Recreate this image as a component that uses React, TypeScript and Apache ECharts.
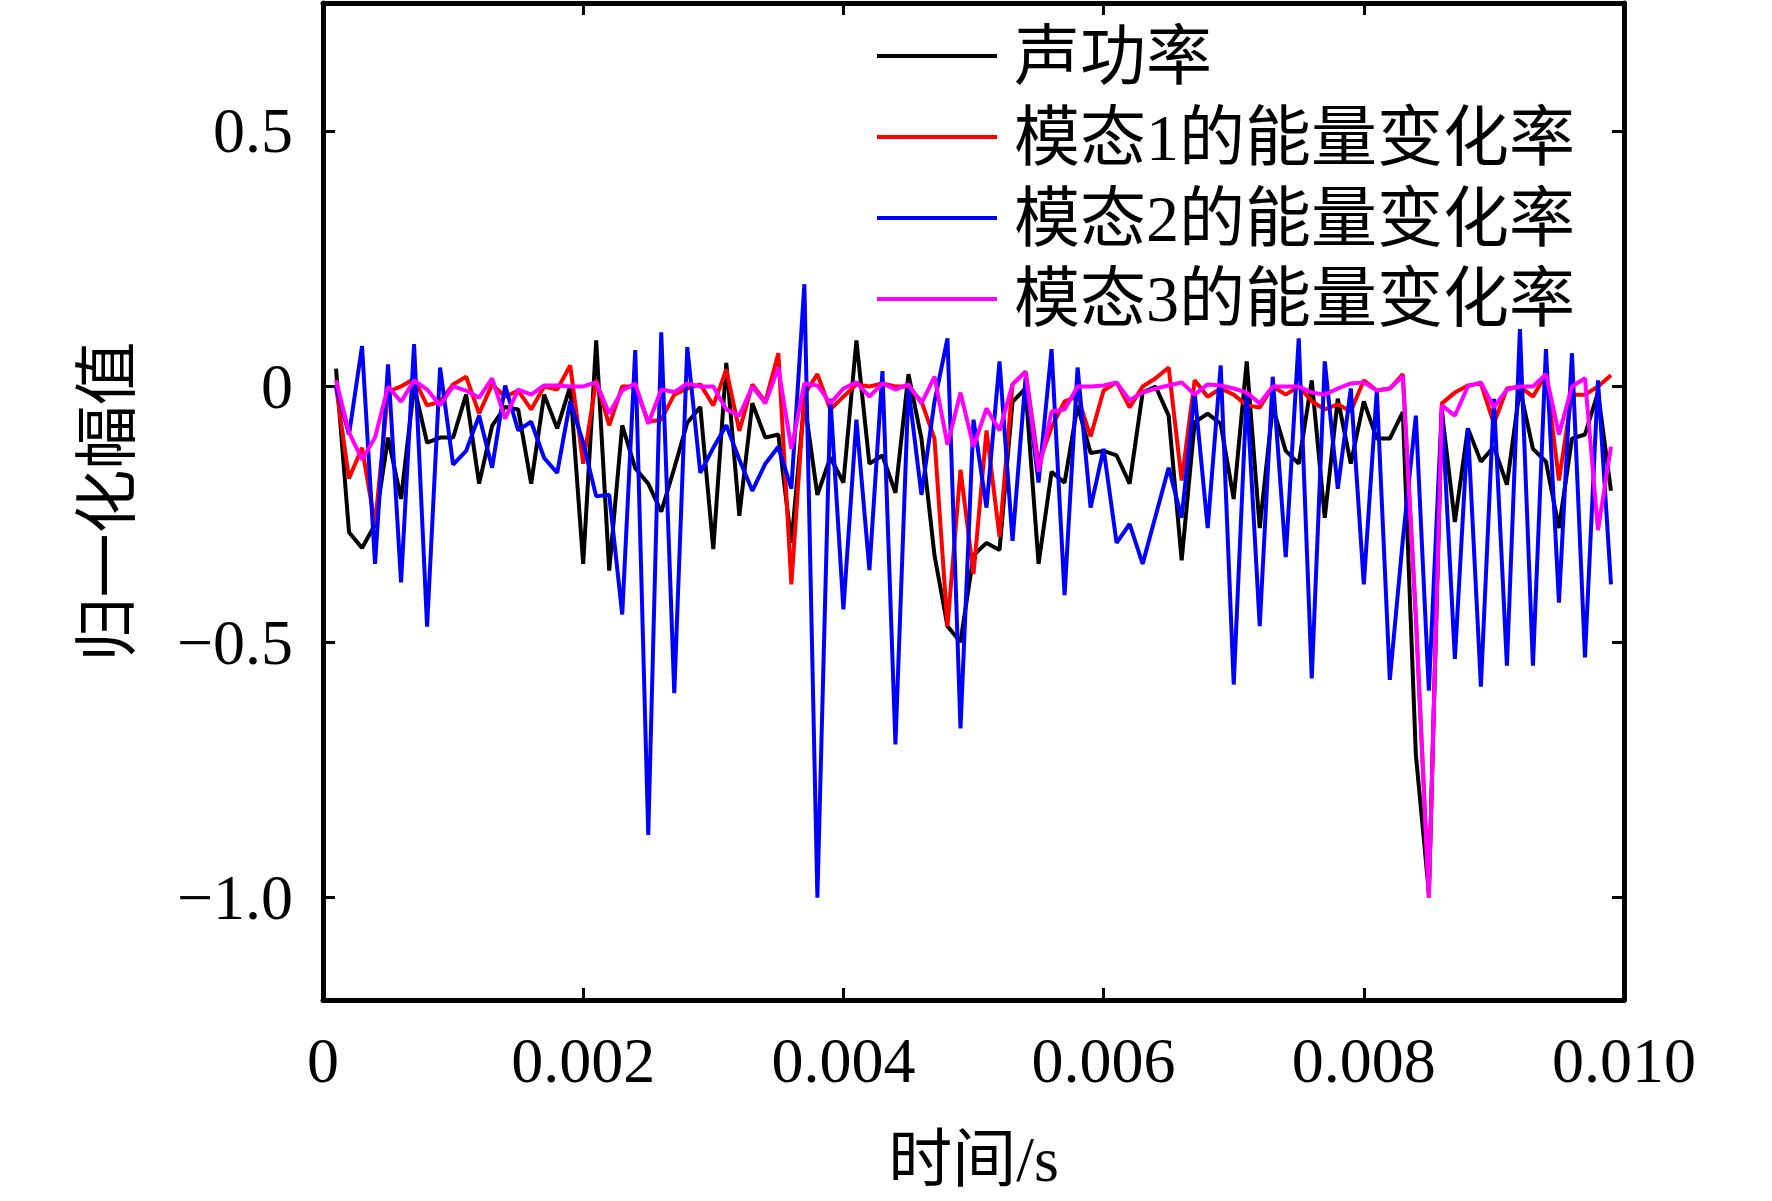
import React, { useEffect, useRef } from "react";
import * as echarts from "echarts";

const FONT = "'Times New Roman', 'Liberation Serif', 'Noto Sans CJK SC', serif";

// sample index 1..99, time = index * 0.0001 s
const sampleCount = 99;
const timeStep = 0.0001;

const seriesNames = ["声功率", "模态1的能量变化率", "模态2的能量变化率", "模态3的能量变化率"];
const seriesColors = ["#000000", "#ff0000", "#0000ff", "#ff00ff"];

const acousticPower = [
  0.035, -0.285, -0.316, -0.27, -0.1, -0.22, 0.0, -0.11, -0.1, -0.1,
  -0.016, -0.19, -0.077, -0.04, -0.045, -0.19, -0.016, -0.082, 0.0, -0.347,
  0.09, -0.36, -0.076, -0.16, -0.19, -0.245, -0.16, -0.071, -0.04, -0.318,
  0.046, -0.253, -0.033, -0.1, -0.094, -0.306, -0.029, -0.212, -0.139, -0.188,
  0.09, -0.151, -0.135, -0.208, 0.024, -0.102, -0.33, -0.469, -0.5, -0.33,
  -0.306, -0.32, -0.03, -0.004, -0.347, -0.167, -0.188, -0.037, -0.13, -0.126,
  -0.135, -0.19, -0.012, 0.0, -0.057, -0.34, -0.07, -0.053, -0.073, -0.22,
  0.049, -0.277, -0.04, -0.126, -0.151, 0.012, -0.257, -0.024, -0.151, -0.029,
  -0.102, -0.102, -0.05, -0.72, -0.99, -0.049, -0.265, -0.082, -0.147, -0.118,
  -0.192, -0.004, -0.122, -0.147, -0.277, -0.102, -0.094, -0.012, -0.204,
];

const mode1Rate = [
  0.0, -0.18, -0.12, -0.27, -0.01, 0.0, 0.015, -0.037, -0.03, 0.004,
  0.019, -0.053, 0.004, -0.02, -0.008, -0.045, 0.0, -0.006, 0.041, -0.151,
  0.012, -0.076, 0.0, 0.0, -0.069, -0.065, -0.016, -0.004, 0.004, -0.037,
  0.033, -0.087, 0.004, -0.03, 0.065, -0.387, -0.016, 0.024, -0.045, -0.02,
  0.004, 0.0, 0.006, 0.0, 0.0, -0.029, -0.102, -0.469, -0.163, -0.367,
  -0.086, -0.294, 0.004, 0.029, -0.151, -0.08, -0.029, -0.02, -0.098, -0.008,
  0.008, -0.041, 0.0, 0.016, 0.037, -0.184, 0.012, -0.02, -0.004, -0.016,
  -0.037, -0.041, 0.0, -0.016, 0.0, -0.029, -0.045, -0.035, -0.049, 0.012,
  -0.008, -0.004, 0.024, -0.45, -1.0, -0.033, -0.012, 0.002, 0.006, -0.073,
  -0.004, 0.0, -0.02, 0.024, -0.184, -0.016, -0.016, 0.0, 0.022,
];

const mode2Rate = [
  0.0, -0.094, 0.079, -0.347, 0.043, -0.383, 0.083, -0.47, 0.037, -0.153,
  -0.126, -0.057, -0.159, 0.002, -0.086, -0.069, -0.14, -0.169, -0.029, -0.11,
  -0.215, -0.212, -0.446, 0.071, -0.877, 0.106, -0.6, 0.077, -0.169, -0.12,
  -0.076, -0.143, -0.204, -0.151, -0.118, -0.2, 0.2, -1.0, -0.024, -0.436,
  -0.065, -0.359, 0.03, -0.7, -0.004, -0.212, -0.03, 0.094, -0.669, -0.065,
  -0.237, 0.049, -0.302, 0.016, -0.188, 0.073, -0.408, 0.037, -0.237, -0.122,
  -0.306, -0.269, -0.347, -0.253, -0.159, -0.257, -0.012, -0.277, 0.041, -0.583,
  -0.01, -0.469, 0.019, -0.334, 0.094, -0.571, 0.049, -0.2, -0.004, -0.387,
  -0.008, -0.574, -0.3, -0.057, -0.595, -0.04, -0.533, -0.082, -0.587, -0.024,
  -0.546, 0.112, -0.546, 0.073, -0.423, 0.065, -0.53, 0.012, -0.387,
];

const mode3Rate = [
  0.012, -0.09, -0.143, -0.1, 0.0, -0.03, 0.012, -0.006, -0.037, 0.0,
  -0.008, -0.022, 0.016, -0.063, -0.006, -0.016, 0.002, 0.002, 0.0, 0.0,
  0.008, -0.053, -0.008, 0.006, -0.073, -0.006, -0.011, 0.006, 0.0, 0.0,
  -0.045, -0.057, 0.0, -0.033, 0.037, -0.122, 0.006, 0.002, -0.033, -0.004,
  0.008, -0.02, 0.006, -0.006, 0.004, -0.033, 0.019, -0.114, -0.012, -0.118,
  -0.043, -0.086, 0.004, 0.029, -0.167, -0.049, -0.045, 0.0, 0.0, 0.002,
  0.008, -0.027, -0.012, -0.004, 0.002, 0.008, -0.016, 0.004, 0.002, -0.004,
  -0.012, -0.033, 0.0, 0.0, 0.0, -0.012, -0.016, -0.004, 0.006, 0.008,
  -0.008, -0.004, 0.02, -0.45, -1.0, -0.037, -0.057, 0.0, 0.008, -0.041,
  -0.006, 0.0, 0.0, 0.024, -0.094, 0.0, 0.016, -0.281, -0.118,
];

const xTickValues = [0, 0.002, 0.004, 0.006, 0.008, 0.01];
const yTickValues = [-1.0, -0.5, 0, 0.5];

const seriesValues = [acousticPower, mode1Rate, mode2Rate, mode3Rate];

const xLabel = (v: number) => (v === 0 ? "0" : v.toFixed(3));
const yLabel = (v: number) =>
  Math.abs(v) < 1e-9 ? "0" : (v < 0 ? "\u2212" : "") + Math.abs(v).toFixed(1);

export default function App() {
  const ref = useRef<HTMLDivElement>(null);

  useEffect(() => {
    if (!ref.current) return;
    const chart = echarts.init(ref.current, undefined, { renderer: "svg" });

    const times: number[] = [];
    for (let i = 1; i <= sampleCount; i++) times.push(+(i * timeStep).toFixed(5));

    const axisLine = { show: true, onZero: false, lineStyle: { color: "#000", width: 5 } };
    const axisTick = { show: true, inside: true, length: 12, lineStyle: { color: "#000", width: 3 } };

    const option: any = {
      animation: false,
      backgroundColor: "#ffffff",
      textStyle: { fontFamily: FONT },
      grid: { left: 323, right: 148, top: 3, bottom: 201, containLabel: false },
      legend: {
        orient: "vertical",
        left: 872,
        top: 18,
        itemWidth: 120,
        itemHeight: 4,
        itemGap: 15,
        icon: "rect",
        data: seriesNames,
        textStyle: {
          fontFamily: FONT,
          fontSize: 66,
          lineHeight: 64,
          color: "#000",
          padding: [0, 0, 0, 12],
        },
      },
      xAxis: [
        {
          type: "value",
          position: "bottom",
          min: 0,
          max: 0.01,
          interval: 0.002,
          axisLine,
          axisTick: { ...axisTick, customValues: xTickValues },
          axisLabel: {
            customValues: xTickValues,
            formatter: xLabel,
            fontSize: 64,
            color: "#000",
            fontFamily: FONT,
            margin: 28,
          },
          splitLine: { show: false },
          name: "时间/s",
          nameLocation: "middle",
          nameGap: 127,
          nameTextStyle: { fontSize: 64, color: "#000", fontFamily: FONT },
        },
        {
          type: "value",
          position: "top",
          min: 0,
          max: 0.01,
          interval: 0.002,
          axisLine,
          axisTick: { ...axisTick, customValues: xTickValues },
          axisLabel: { show: false },
          splitLine: { show: false },
        },
      ],
      yAxis: [
        {
          type: "value",
          position: "left",
          min: -1.2,
          max: 0.75,
          axisLine,
          axisTick: { ...axisTick, customValues: yTickValues },
          axisLabel: {
            customValues: yTickValues,
            formatter: yLabel,
            fontSize: 64,
            color: "#000",
            fontFamily: FONT,
            margin: 30,
          },
          splitLine: { show: false },
          name: "归一化幅值",
          nameLocation: "middle",
          nameGap: 184,
          nameTextStyle: { fontSize: 64, color: "#000", fontFamily: FONT },
        },
        {
          type: "value",
          position: "right",
          min: -1.2,
          max: 0.75,
          axisLine,
          axisTick: { ...axisTick, customValues: yTickValues },
          axisLabel: { show: false },
          splitLine: { show: false },
        },
      ],
      series: seriesNames.map((name, s) => ({
        name,
        type: "line",
        xAxisIndex: 0,
        yAxisIndex: 0,
        showSymbol: false,
        symbol: "none",
        color: seriesColors[s],
        itemStyle: { color: seriesColors[s] },
        lineStyle: { color: seriesColors[s], width: 4 },
        data: times.map((t, k) => [t, seriesValues[s][k]]),
        z: 2 + s,
      })),
    };

    chart.setOption(option);
    return () => chart.dispose();
  }, []);

  return (
    <div
      ref={ref}
      style={{
        position: "fixed",
        left: 0,
        top: 0,
        width: 1772,
        height: 1201,
        background: "#fff",
      }}
    />
  );
}
